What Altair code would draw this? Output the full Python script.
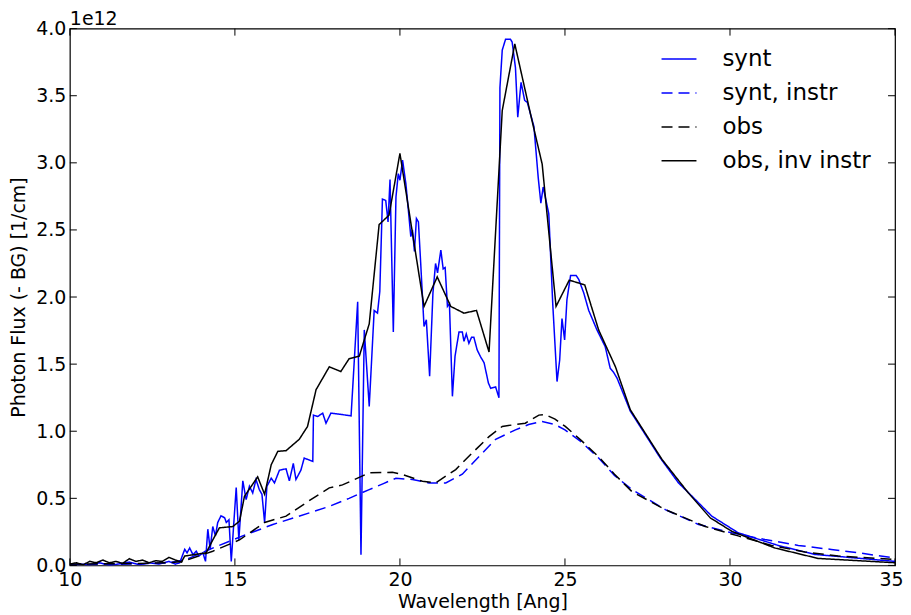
import altair as alt
import pandas as pd

# ---------------- data (flux in units of 1e12) ----------------
series_names = ["synt", "synt, instr", "obs", "obs, inv instr"]
series_colors = ["#0000ff", "#0000ff", "#000000", "#000000"]
series_dashes = [[1, 0], [11, 6], [11, 6], [1, 0]]

synt_x = [10.0, 10.3, 10.6, 10.9, 11.2, 11.5, 11.8, 12.1, 12.4, 12.7, 13.0, 13.2, 13.33,
          13.48, 13.55, 13.63, 13.73, 13.83, 13.91, 14.03, 14.11, 14.18, 14.25, 14.33, 14.41,
          14.48, 14.58, 14.69, 14.74, 14.82, 14.89, 14.96, 15.04, 15.12, 15.24, 15.34, 15.44,
          15.54, 15.64, 15.74, 15.82, 15.90, 15.97, 16.10, 16.20, 16.35, 16.55, 16.65, 16.77,
          16.85, 17.00, 17.10, 17.36, 17.38, 17.51, 17.66, 17.76, 17.91, 18.52, 18.59, 18.72,
          18.82, 18.92, 19.07, 19.22, 19.32, 19.39, 19.47, 19.57, 19.64, 19.70, 19.80, 19.88,
          19.95, 20.00, 20.08, 20.18, 20.33, 20.38, 20.44, 20.50, 20.56, 20.63, 20.73, 20.80,
          20.90, 21.00, 21.08, 21.14, 21.24, 21.31, 21.37, 21.44, 21.50, 21.59, 21.67, 21.79,
          21.89, 21.94, 22.01, 22.09, 22.17, 22.24, 22.34, 22.44, 22.55, 22.68, 22.75, 22.90,
          23.00, 23.03, 23.10, 23.20, 23.35, 23.40, 23.50, 23.57, 23.67, 23.78, 23.86, 24.06,
          24.19, 24.27, 24.34, 24.51, 24.63, 24.76, 24.84, 24.91, 24.99, 25.06, 25.17, 25.34,
          25.42, 25.57, 25.72, 25.97, 26.22, 26.37, 26.47, 26.58, 26.98, 27.89, 28.44, 28.79,
          29.45, 30.25, 31.46, 32.57, 35.0]
synt_y = [0.0, 0.01, 0.005, 0.02, 0.0, 0.012, 0.025, 0.005, 0.02, 0.01, 0.03, 0.01, 0.02,
          0.12, 0.094, 0.13, 0.08, 0.106, 0.07, 0.094, 0.03, 0.27, 0.12, 0.29, 0.22,
          0.32, 0.37, 0.355, 0.32, 0.34, 0.03, 0.29, 0.58, 0.19, 0.63, 0.49, 0.59,
          0.54, 0.64, 0.565, 0.53, 0.32, 0.59, 0.65, 0.615, 0.71, 0.72, 0.63, 0.76,
          0.64, 0.71, 0.80, 0.775, 1.12, 1.11, 1.135, 1.06, 1.135, 1.115, 1.41, 1.965,
          0.08, 1.755, 1.185, 1.90, 1.88, 2.04, 2.73, 2.72, 2.56, 2.875, 1.74, 2.745,
          2.92, 2.87, 3.02, 2.845, 2.45, 2.50, 2.34, 2.585, 2.56, 2.25, 1.78, 1.83,
          1.41, 2.03, 2.25, 2.18, 2.35, 2.21, 2.22, 1.93, 1.95, 1.26, 1.56, 1.74,
          1.74, 1.67, 1.725, 1.655, 1.70, 1.70, 1.606, 1.556, 1.51, 1.36, 1.32, 1.33,
          1.25, 3.56, 3.84, 3.92, 3.92, 3.90, 3.71, 3.34, 3.60, 3.465, 3.45, 3.27,
          2.89, 2.70, 2.82, 2.62, 1.95, 1.37, 1.53, 1.84, 1.68, 1.98, 2.16, 2.16,
          2.13, 2.03, 1.90, 1.755, 1.63, 1.47, 1.44, 1.395, 1.15, 0.80, 0.615, 0.53,
          0.367, 0.243, 0.149, 0.082, 0.03]

synt_instr_x = [10.0, 11.0, 12.0, 13.0, 13.53, 14.43, 15.34, 16.15, 17.36, 17.86, 18.46, 19.07,
                19.5, 19.88, 20.38, 20.88, 21.39, 21.89, 22.39, 22.9, 23.5, 23.9, 24.31, 24.7,
                25.0, 25.5, 26.02, 26.5, 27.03, 28.04, 29.05, 30.05, 31.06, 32.07, 33.07, 34.0, 35.0]
synt_instr_y = [0.005, 0.008, 0.01, 0.02, 0.045, 0.14, 0.23, 0.305, 0.40, 0.44, 0.50, 0.565,
                0.61, 0.65, 0.64, 0.615, 0.615, 0.68, 0.81, 0.94, 1.01, 1.05, 1.073, 1.05,
                1.01, 0.92, 0.80, 0.67, 0.565, 0.416, 0.305, 0.243, 0.193, 0.149, 0.119, 0.09, 0.055]

obs_x = [10.0, 11.0, 12.0, 13.0, 13.43, 14.33, 15.14, 15.9, 16.55, 17.36, 17.86, 18.26, 19.07,
         19.77, 20.08, 20.68, 21.08, 21.69, 22.19, 22.70, 23.1, 23.8, 24.21, 24.4, 24.7, 25.01,
         25.5, 26.02, 26.5, 27.03, 28.04, 29.25, 30.25, 31.26, 32.27, 33.28, 35.0]
obs_y = [0.01, 0.012, 0.015, 0.02, 0.03, 0.106, 0.19, 0.32, 0.367, 0.50, 0.578, 0.60, 0.69,
         0.694, 0.677, 0.627, 0.615, 0.714, 0.838, 0.96, 1.036, 1.06, 1.12, 1.125, 1.09, 1.036,
         0.93, 0.81, 0.68, 0.55, 0.416, 0.29, 0.22, 0.149, 0.10, 0.07, 0.045]

obs_inv_x = [10.0, 10.2, 10.4, 10.6, 10.8, 11.0, 11.2, 11.4, 11.6, 11.8, 12.0, 12.2, 12.4, 12.6,
             12.8, 13.0, 13.2, 13.38, 13.48, 14.13, 14.33, 14.53, 14.94, 15.14, 15.29, 15.69,
             15.90, 16.10, 16.30, 16.55, 16.95, 17.20, 17.46, 17.86, 18.21, 18.46, 18.77, 19.07,
             19.37, 19.67, 20.00, 20.73, 21.13, 21.54, 21.94, 22.32, 22.70, 23.10, 23.48, 24.00,
             24.31, 24.73, 25.13, 25.60, 26.02, 26.53, 26.98, 27.94, 28.74, 29.40, 30.05, 30.56,
             31.36, 32.67, 35.0]
obs_inv_y = [0.01, 0.02, 0.005, 0.03, 0.02, 0.04, 0.02, 0.03, 0.015, 0.05, 0.03, 0.04, 0.02, 0.035,
             0.03, 0.06, 0.04, 0.025, 0.07, 0.094, 0.19, 0.28, 0.29, 0.33, 0.515, 0.66,
             0.53, 0.75, 0.85, 0.855, 0.94, 1.035, 1.31, 1.48, 1.445, 1.54, 1.56, 1.80,
             2.54, 2.61, 3.07, 1.93, 2.15, 1.93, 1.88, 1.90, 1.59, 3.39, 3.886, 3.316,
             2.99, 1.93, 2.126, 2.09, 1.755, 1.48, 1.16, 0.79, 0.54, 0.355, 0.255, 0.206,
             0.13, 0.052, 0.02]

x_ticks = [10, 15, 20, 25, 30, 35]
y_ticks = [0.0, 0.5, 1.0, 1.5, 2.0, 2.5, 3.0, 3.5, 4.0]

# ---------------- build table ----------------
frames = []
for name, xs, ys in [("synt", synt_x, synt_y),
                     ("synt, instr", synt_instr_x, synt_instr_y),
                     ("obs", obs_x, obs_y),
                     ("obs, inv instr", obs_inv_x, obs_inv_y)]:
    frames.append(pd.DataFrame({"series": name, "x": xs, "y": ys, "i": range(len(xs))}))
df = pd.concat(frames, ignore_index=True)

W, H = 827, 538
FONT = "DejaVu Sans"

xscale = alt.Scale(domain=[10, 35], nice=False, zero=False)
yscale = alt.Scale(domain=[0, 4], nice=False, zero=False)

color = alt.Color("series:N", title=None,
                  scale=alt.Scale(domain=series_names, range=series_colors))
dash = alt.StrokeDash("series:N", title=None,
                      scale=alt.Scale(domain=series_names, range=series_dashes))

last_x = x_ticks[-1]
xaxis = alt.Axis(values=x_ticks, format="d", title="Wavelength [Ang]",
                 labelPadding=5, labelFlush=False, titleY=42, titleBaseline="alphabetic",
                 labelAlign={"condition": {"test": f"datum.value == {last_x}", "value": "right"},
                             "value": "center"},
                 labelOffset={"condition": {"test": f"datum.value == {last_x}", "value": 8},
                              "value": 0})
yaxis = alt.Axis(values=y_ticks, format=".1f", title="Photon Flux (- BG) [1/cm]",
                 labelPadding=4, labelFlush=False, titleX=-45, titleY=H / 2, titleAngle=270,
                 titleAlign="center", titleBaseline="alphabetic")

X = alt.X("x:Q", scale=xscale, axis=xaxis)
Y = alt.Y("y:Q", scale=yscale, axis=yaxis)

base = alt.Chart(df)
layers = []
for name in series_names:
    layers.append(
        base.transform_filter(alt.datum.series == name)
        .mark_line(strokeWidth=1.5, clip=True)
        .encode(x=X, y=Y, order="i:Q", color=color, strokeDash=dash)
    )

xt = pd.DataFrame({"x": x_ticks})
yt = pd.DataFrame({"y": y_ticks})
TL = 7
tick_layers = [
    alt.Chart(xt).mark_rule(color="black", strokeWidth=1).encode(
        x=X, y=alt.value(H), y2=alt.value(H - TL)),
    alt.Chart(xt).mark_rule(color="black", strokeWidth=1).encode(
        x=X, y=alt.value(0), y2=alt.value(TL)),
    alt.Chart(yt).mark_rule(color="black", strokeWidth=1).encode(
        y=Y, x=alt.value(0), x2=alt.value(TL)),
    alt.Chart(yt).mark_rule(color="black", strokeWidth=1).encode(
        y=Y, x=alt.value(W), x2=alt.value(W - TL)),
]

offset_text = alt.Chart(pd.DataFrame({"t": ["1e12"]})).mark_text(
    align="left", baseline="alphabetic", font=FONT, fontSize=19, color="black"
).encode(text="t:N", x=alt.value(0), y=alt.value(-4))

chart = alt.layer(*layers, *tick_layers, offset_text).properties(
    width=W, height=H,
    autosize=alt.AutoSizeParams(type="none"),
    padding={"left": 62, "top": 20, "right": 8, "bottom": 46},
).configure_view(
    stroke="black", strokeWidth=1.2
).configure_axis(
    labelFont=FONT, titleFont=FONT, labelFontSize=19, titleFontSize=19,
    labelColor="black", titleColor="black", titleFontWeight="normal",
    ticks=False, domain=False, grid=False,
).configure_legend(
    orient="none", legendX=592, legendY=12,
    symbolType="stroke", symbolSize=1225, symbolStrokeWidth=1.5,
    labelFont=FONT, labelFontSize=23, labelColor="black", labelOffset=25,
    rowPadding=3, padding=0, labelLimit=400,
)

chart.save("out.html", embed_options={"renderer": "svg", "actions": False})
